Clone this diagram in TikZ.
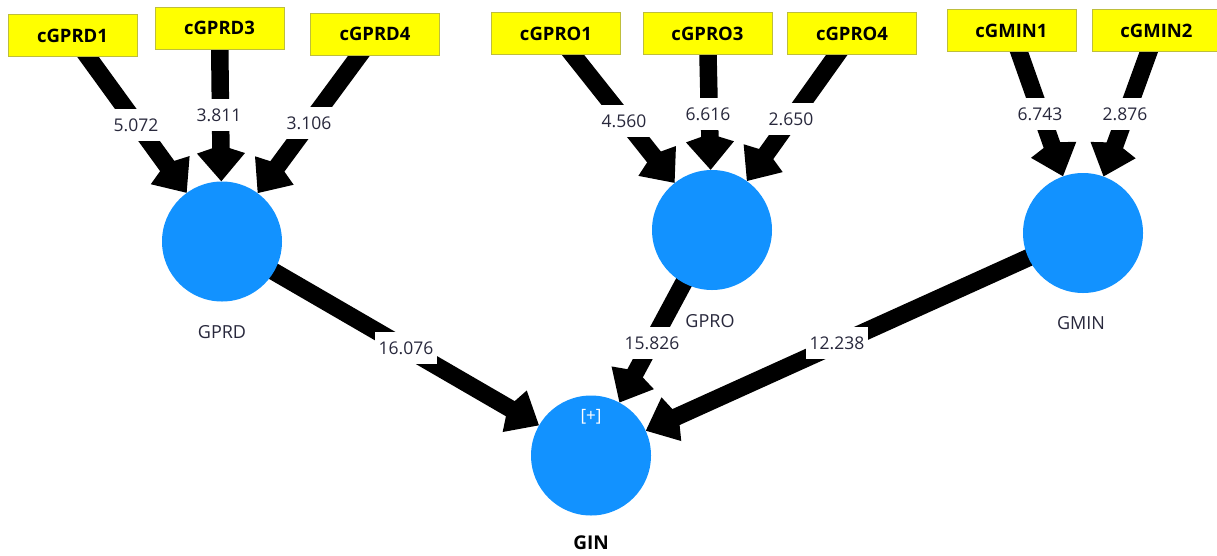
\documentclass[tikz,border=0pt]{standalone}
\usepackage{fontspec}
\setmainfont{Open Sans}
\usetikzlibrary{arrows.meta}
\definecolor{boxfill}{RGB}{255,255,0}
\definecolor{boxline}{RGB}{190,190,60}
\definecolor{circblue}{RGB}{18,146,255}
\definecolor{labtext}{RGB}{40,40,60}
\pgfdeclarelayer{bg}
\pgfsetlayers{bg,main}
\begin{document}
\begin{tikzpicture}[x=1pt,y=-1pt,
  ind/.style={draw=boxline, line width=1pt, fill=boxfill, minimum width=129pt,
    minimum height=42pt, inner sep=0pt, font=\fontsize{18.5}{20}\selectfont\bfseries},
  lv/.style={circle, fill=circblue, minimum size=120pt, inner sep=0pt},
  clab/.style={font=\fontsize{18}{20}\selectfont, text=labtext, inner sep=0pt},
  numlab/.style={fill=white, inner xsep=4pt, inner ysep=0pt, minimum height=32pt,
    font=\fontsize{17.5}{18}\selectfont, text=labtext},
  pathar/.style={line width=17.5pt, -{Kite[length=36pt,width=48pt,inset=8pt]},
    shorten <=-12pt},
]
\useasboundingbox (0,0) rectangle (1217,555);

% indicators
\node[ind] (cGPRD1) at (72.5,35.5) {cGPRD1};
\node[ind] (cGPRD3) at (219.5,28) {cGPRD3};
\node[ind] (cGPRD4) at (375,34) {cGPRD4};
\node[ind] (cGPRO1) at (556,33.5) {cGPRO1};
\node[ind] (cGPRO3) at (707.5,33.5) {cGPRO3};
\node[ind] (cGPRO4) at (852,33.5) {cGPRO4};
\node[ind] (cGMIN1) at (1011.5,30.5) {cGMIN1};
\node[ind] (cGMIN2) at (1156.5,30.5) {cGMIN2};

% constructs
\node[lv] (GPRD) at (222,241.5) {};
\node[lv] (GPRO) at (712,230) {};
\node[lv] (GMIN) at (1083,233) {};
\node[lv] (GIN) at (591,455.5) {};

\node[clab] (GPRDlab) at (222,332) {GPRD};
\node[clab] (GPROlab) at (710,321) {GPRO};
\node[clab] (GMINlab) at (1081,323) {GMIN};
\node[font=\fontsize{19}{20}\selectfont\bfseries, text=black, inner sep=0pt] (GINlab) at (591,543) {GIN};
\node[font=\fontsize{17}{18}\selectfont, text=white, inner sep=0pt] (plus) at (591,417) {[+]};

% connectors
\begin{pgfonlayer}{bg}
\draw[pathar] (cGPRD1) -- (GPRD);
\draw[pathar] (cGPRD3) -- (GPRD);
\draw[pathar] (cGPRD4) -- (GPRD);
\draw[pathar] (cGPRO1) -- (GPRO);
\draw[pathar] (cGPRO3) -- (GPRO);
\draw[pathar] (cGPRO4) -- (GPRO);
\draw[pathar] (cGMIN1) -- (GMIN);
\draw[pathar] (cGMIN2) -- (GMIN);
\draw[pathar] (GPRD) -- (GIN);
\draw[pathar] (GPRO) -- (GIN);
\draw[pathar] (GMIN) -- (GIN);
\end{pgfonlayer}

% path labels
\node[numlab] (w1) at (136,125) {5.072};
\node[numlab] (w2) at (219,115) {3.811};
\node[numlab] (w3) at (309,123) {3.106};
\node[numlab] (w4) at (624,121) {4.560};
\node[numlab] (w5) at (708,114) {6.616};
\node[numlab] (w6) at (791,119) {2.650};
\node[numlab] (w7) at (1040,114) {6.743};
\node[numlab] (w8) at (1125,114) {2.876};
\node[numlab] (w9) at (406,348) {16.076};
\node[numlab] (w10) at (652,343) {15.826};
\node[numlab] (w11) at (837,343) {12.238};
\end{tikzpicture}
\end{document}
